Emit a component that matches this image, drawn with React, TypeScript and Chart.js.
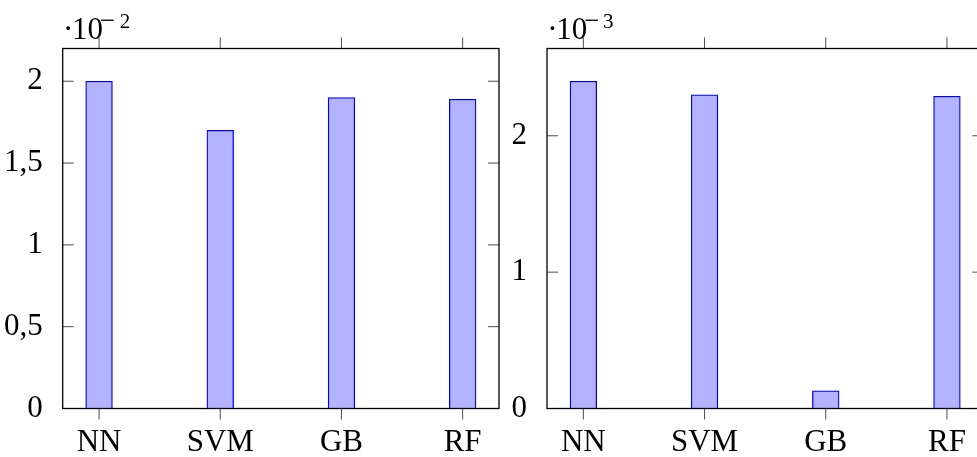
import React, { useEffect, useRef } from "react";
import { Chart, registerables } from "chart.js";

Chart.register(...registerables);

// ---------- data ----------
const categories = ["NN", "SVM", "GB", "RF"];

const leftValues = [2.0, 1.7, 1.9, 1.89];
const leftTicks = [0, 0.5, 1, 1.5, 2];
const leftMax = 2.2;
const leftExponent = "2";

const rightValues = [2.4, 2.3, 0.13, 2.29];
const rightTicks = [0, 1, 2];
const rightMax = 2.64;
const rightExponent = "3";

const xMin = -0.3;
const xMax = 3.3;

const FAMILY = '"Liberation Serif", "Times New Roman", serif';
const H = 457;

function drawInk(ctx: CanvasRenderingContext2D, text: string, inkLeft: number, baseline: number) {
  const m = ctx.measureText(text);
  ctx.fillText(text, inkLeft + m.actualBoundingBoxLeft, baseline);
}

function makeConfig(
  values: number[],
  yTicks: number[],
  yMax: number,
  exponent: string,
  yWidth: number,
  rightPad: number
): any {
  const framePlugin = {
    id: "pgfFrame",
    afterDraw(chart: any) {
      const { ctx, chartArea: a, scales } = chart;
      const xs = scales.x;
      const ys = scales.y;
      ctx.save();
      // tick marks
      ctx.strokeStyle = "#000";
      ctx.lineWidth = 0.7;
      ctx.beginPath();
      categories.forEach((_, i) => {
        const px = xs.getPixelForValue(i);
        ctx.moveTo(px, a.bottom);
        ctx.lineTo(px, a.bottom + 11);
        ctx.moveTo(px, a.top);
        ctx.lineTo(px, a.top - 11);
      });
      yTicks.forEach((v) => {
        const py = ys.getPixelForValue(v);
        ctx.moveTo(a.left, py);
        ctx.lineTo(a.left + 11, py);
        ctx.moveTo(a.right, py);
        ctx.lineTo(a.right - 11, py);
      });
      ctx.stroke();
      // frame
      ctx.lineWidth = 1.3;
      ctx.strokeRect(a.left, a.top, a.right - a.left, a.bottom - a.top);
      // exponent label  ·10^{-n}
      ctx.fillStyle = "#000";
      ctx.textAlign = "left";
      ctx.textBaseline = "alphabetic";
      ctx.font = `31px ${FAMILY}`;
      drawInk(ctx, "\u00B7", a.left + 3.3, 39);
      drawInk(ctx, "10", a.left + 11.3, 39);
      ctx.font = `27px ${FAMILY}`;
      drawInk(ctx, "\u2212", a.left + 38, 29);
      ctx.font = `21px ${FAMILY}`;
      drawInk(ctx, exponent, a.left + 57, 28);
      ctx.restore();
    },
  };

  const tickFont = { family: FAMILY, size: 31 };

  return {
    type: "bar",
    data: {
      datasets: [
        {
          data: values.map((v, i) => ({ x: i, y: v })),
          backgroundColor: "rgb(179,179,255)",
          borderColor: "rgb(0,0,255)",
          borderWidth: 1.3,
          barThickness: 26.7,
        },
      ],
    },
    options: {
      animation: false,
      responsive: false,
      devicePixelRatio: 1,
      layout: { padding: { left: 0, right: rightPad, top: 48.5, bottom: 0 } },
      plugins: { legend: { display: false }, tooltip: { enabled: false } },
      scales: {
        x: {
          type: "linear",
          offset: false,
          min: xMin,
          max: xMax,
          afterBuildTicks: (s: any) => {
            s.ticks = categories.map((_, i) => ({ value: i }));
          },
          ticks: {
            callback: (v: any) => categories[Math.round(Number(v))] ?? "",
            font: tickFont,
            color: "#000",
            padding: 8,
            maxRotation: 0,
            autoSkip: false,
          },
          grid: { display: false, offset: false },
          border: { display: false },
          afterFit: (s: any) => {
            s.height = 48.5;
          },
        },
        y: {
          type: "linear",
          min: 0,
          max: yMax,
          afterBuildTicks: (s: any) => {
            s.ticks = yTicks.map((v) => ({ value: v }));
          },
          ticks: {
            callback: (v: any) => String(v).replace(".", ","),
            font: tickFont,
            color: "#000",
            padding: 12,
          },
          grid: { display: false },
          border: { display: false },
          afterFit: (s: any) => {
            s.width = yWidth;
          },
        },
      },
    },
    plugins: [framePlugin],
  };
}

function Panel(props: {
  values: number[];
  yTicks: number[];
  yMax: number;
  exponent: string;
  left: number;
  width: number;
  yWidth: number;
  rightPad: number;
}) {
  const ref = useRef<HTMLCanvasElement>(null);
  useEffect(() => {
    const chart = new Chart(
      ref.current as HTMLCanvasElement,
      makeConfig(props.values, props.yTicks, props.yMax, props.exponent, props.yWidth, props.rightPad)
    );
    return () => chart.destroy();
  }, []);
  return (
    <canvas
      ref={ref}
      width={props.width}
      height={H}
      style={{ position: "absolute", left: props.left, top: 0, width: props.width, height: H }}
    />
  );
}

export default function App() {
  return (
    <div
      style={{
        position: "fixed",
        left: 0,
        top: 0,
        width: 977,
        height: H,
        overflow: "hidden",
        background: "#fff",
      }}
    >
      <Panel
        values={leftValues}
        yTicks={leftTicks}
        yMax={leftMax}
        exponent={leftExponent}
        left={0}
        width={510}
        yWidth={62.7}
        rightPad={11}
      />
      <Panel
        values={rightValues}
        yTicks={rightTicks}
        yMax={rightMax}
        exponent={rightExponent}
        left={510}
        width={500}
        yWidth={37}
        rightPad={26.7}
      />
    </div>
  );
}
